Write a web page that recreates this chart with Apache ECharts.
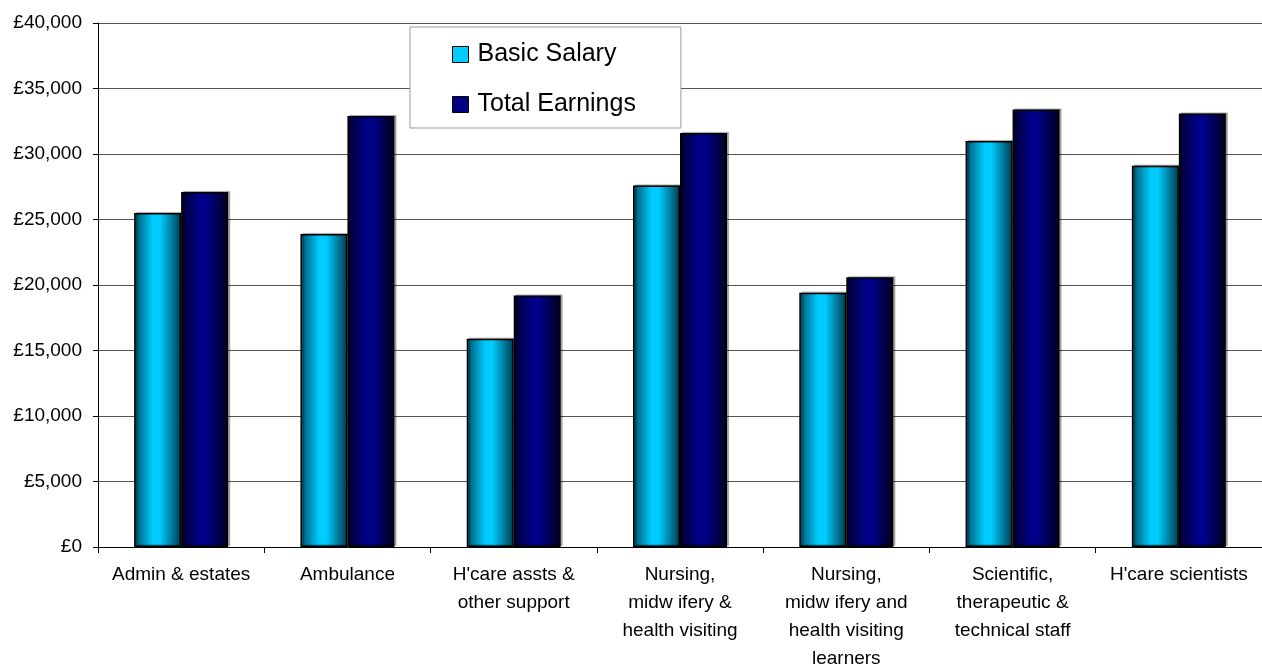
<!DOCTYPE html>
<html>
<head>
<meta charset="utf-8">
<script src="https://cdn.jsdelivr.net/npm/echarts@6/dist/echarts.min.js"></script>
<style>
  html, body { margin: 0; padding: 0; background: #fff; }
  #main { width: 1262px; height: 668px; }
</style>
</head>
<body>
<div id="main"></div>
<script>
var categories = [
  'Admin & estates',
  'Ambulance',
  "H'care assts &\nother support",
  'Nursing,\nmidw ifery &\nhealth visiting',
  'Nursing,\nmidw ifery and\nhealth visiting\nlearners',
  'Scientific,\ntherapeutic &\ntechnical staff',
  "H'care scientists"
]
var basicSalary = [25500, 23900, 15900, 27600, 19400, 31000, 29100]
var totalEarnings = [27100, 32900, 19200, 31600, 20600, 33400, 33100]

function grad(edgeL, mid, edgeR) {
  return new echarts.graphic.LinearGradient(0, 0, 1, 0, [
    { offset: 0, color: edgeL },
    { offset: 0.4, color: mid },
    { offset: 0.55, color: mid },
    { offset: 1, color: edgeR }
  ])
}

function main() {
  var myChart = echarts.init(document.getElementById('main'))
  var font = 'Liberation Sans, Arial, sans-serif'
  var option = {
    animation: false,
    textStyle: { fontFamily: font },
    grid: { left: 98, right: 0, top: 23, bottom: 121, outerBoundsMode: 'none', containLabel: false },
    legend: {
      orient: 'vertical',
      left: 410,
      top: 27,
      padding: [15, 45, 11, 42],
      itemGap: 25,
      itemWidth: 16,
      itemHeight: 16,
      itemStyle: { borderColor: '#000', borderWidth: 1 },
      backgroundColor: '#fff',
      borderColor: '#999',
      borderWidth: 1,
      borderRadius: 0,
      textStyle: { fontSize: 25, color: '#000', fontFamily: font, lineHeight: 25, padding: [0, 0, 0, 4] },
      data: [
        { name: 'Basic Salary', icon: 'rect', itemStyle: { color: '#00ccff' } },
        { name: 'Total Earnings', icon: 'rect', itemStyle: { color: '#000080' } }
      ]
    },
    xAxis: {
      type: 'category',
      data: categories,
      axisLine: { lineStyle: { color: '#000', width: 1 } },
      axisTick: { show: true, length: 6, lineStyle: { color: '#000' } },
      axisLabel: { fontSize: 19, color: '#000', lineHeight: 28, margin: 14, interval: 0, align: 'center' }
    },
    yAxis: {
      type: 'value',
      min: 0,
      max: 40000,
      interval: 5000,
      axisLine: { show: true, lineStyle: { color: '#000' } },
      axisTick: { show: true, length: 5, lineStyle: { color: '#000' } },
      splitLine: { lineStyle: { color: '#555', width: 1 } },
      axisLabel: {
        fontSize: 19,
        color: '#000',
        margin: 16,
        formatter: function (v) { return '£' + v.toLocaleString('en-GB') }
      }
    },
    series: [
      {
        name: 'Basic Salary',
        type: 'bar',
        data: basicSalary,
        barWidth: 47,
        barGap: '0%',
        itemStyle: {
          color: grad('#00516b', '#00ccff', '#003a4d'),
          borderColor: '#000',
          borderWidth: 1.5,
          shadowColor: 'rgba(0,0,0,0.3)',
          shadowOffsetX: 2,
          shadowOffsetY: -1,
          shadowBlur: 1
        }
      },
      {
        name: 'Total Earnings',
        type: 'bar',
        data: totalEarnings,
        barWidth: 47,
        itemStyle: {
          color: grad('#000033', '#000088', '#00001a'),
          borderColor: '#000',
          borderWidth: 1.5,
          shadowColor: 'rgba(0,0,0,0.3)',
          shadowOffsetX: 2,
          shadowOffsetY: -1,
          shadowBlur: 1
        }
      }
    ]
  }
  myChart.setOption(option)
}

window.onload = main
</script>
</body>
</html>
